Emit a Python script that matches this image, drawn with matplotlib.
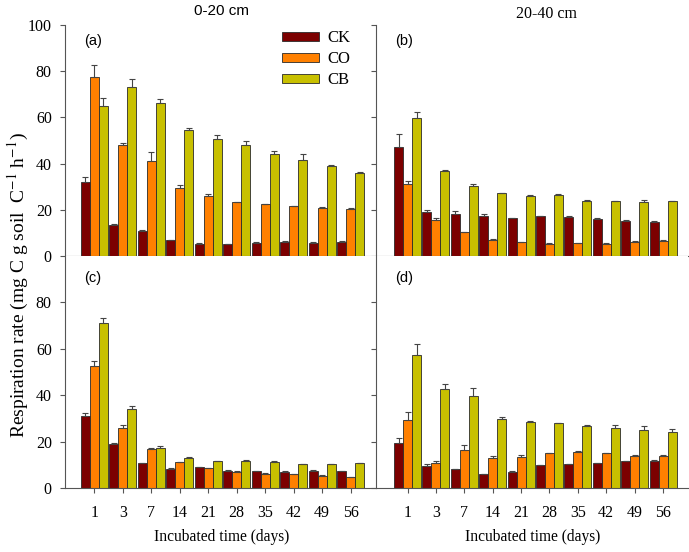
import numpy as np
import matplotlib
matplotlib.use("Agg")
import matplotlib.pyplot as plt

plt.rcParams["mathtext.fontset"] = "stix"

# Data
days = ["1", "3", "7", "14", "21", "28", "35", "42", "49", "56"]
treatments = ["CK", "CO", "CB"]
colors = ["#7c0000", "#ff8000", "#c8c000"]

# (a) 0-20 cm
a_ck = [31.9, 13.6, 10.8, 6.8, 5.3, 5.2, 5.8, 6.1, 5.8, 6.2]
a_co = [77.6, 48.1, 41.1, 29.3, 26.0, 23.2, 22.4, 21.6, 20.9, 20.3]
a_cb = [65.1, 73.3, 66.1, 54.4, 50.5, 48.2, 44.3, 41.4, 39.1, 36.1]
a_ck_err = [2.3, 0.4, 0.3, 0.2, 0.2, 0.2, 0.2, 0.2, 0.2, 0.3]
a_co_err = [5.1, 1.0, 3.8, 1.6, 0.8, 0.3, 0.2, 0.2, 0.3, 0.6]
a_cb_err = [3.4, 3.3, 1.7, 0.9, 1.7, 1.4, 1.3, 2.8, 0.2, 0.2]

# (b) 20-40 cm
b_ck = [47.3, 18.9, 18.3, 17.3, 16.3, 17.2, 16.7, 16.2, 15.3, 14.9]
b_co = [31.2, 15.6, 10.4, 7.1, 5.9, 5.3, 5.6, 5.3, 6.1, 6.6]
b_cb = [59.6, 36.8, 30.3, 27.1, 26.1, 26.6, 24.0, 23.7, 23.2, 23.7]
b_ck_err = [5.4, 0.9, 1.0, 1.0, 0.2, 0.2, 0.4, 0.2, 0.2, 0.2]
b_co_err = [1.4, 0.7, 0.2, 0.2, 0.2, 0.2, 0.2, 0.2, 0.2, 0.2]
b_cb_err = [2.7, 0.3, 1.0, 0.2, 0.3, 0.3, 0.4, 0.2, 1.0, 0.2]

# (c) 0-20 cm
c_ck = [31.1, 18.8, 10.6, 8.0, 8.9, 7.5, 7.3, 7.0, 7.5, 7.2]
c_co = [52.6, 25.8, 16.8, 11.0, 8.6, 6.9, 6.2, 5.9, 5.2, 4.7]
c_cb = [70.8, 34.0, 17.2, 13.0, 11.5, 11.6, 11.3, 10.3, 10.2, 10.6]
c_ck_err = [1.0, 0.7, 0.2, 0.4, 0.3, 0.2, 0.2, 0.2, 0.3, 0.2]
c_co_err = [2.2, 1.3, 0.3, 0.2, 0.2, 0.2, 0.2, 0.2, 0.2, 0.2]
c_cb_err = [2.3, 1.4, 0.9, 0.2, 0.2, 0.3, 0.2, 0.2, 0.2, 0.3]

# (d) 20-40 cm
d_ck = [19.4, 9.3, 8.0, 6.0, 7.0, 9.7, 10.3, 10.6, 11.6, 11.8]
d_co = [29.2, 10.9, 16.3, 13.0, 13.5, 14.9, 15.5, 14.9, 13.8, 13.9]
d_cb = [57.3, 42.4, 39.7, 29.7, 28.5, 27.8, 26.8, 25.8, 24.9, 24.1]
d_ck_err = [2.1, 0.9, 0.2, 0.2, 0.2, 0.2, 0.2, 0.2, 0.2, 0.2]
d_co_err = [3.6, 0.7, 2.2, 0.6, 0.5, 0.2, 0.3, 0.2, 0.2, 0.2]
d_cb_err = [4.8, 2.3, 3.3, 0.8, 0.3, 0.2, 0.2, 1.4, 1.9, 1.4]

SERIF = "Liberation Serif"
SANS = "Liberation Sans"

fig = plt.figure(figsize=(6.89, 5.52), dpi=100)
W, H = 689, 552


def add_axes(x0, y_top, x1, y_bot):
    return fig.add_axes([x0 / W, 1 - y_bot / H, (x1 - x0) / W, (y_bot - y_top) / H])


ax_a = add_axes(65, 25, 376, 256)
ax_b = add_axes(376, 25, 688, 256)
ax_c = add_axes(65, 256, 376, 488)
ax_d = add_axes(376, 256, 688, 488)

panels = [
    (ax_a, [a_ck, a_co, a_cb], [a_ck_err, a_co_err, a_cb_err], "(a)", (-1.03, 9.89), 100),
    (ax_b, [b_ck, b_co, b_cb], [b_ck_err, b_co_err, b_cb_err], "(b)", (-1.11, 9.88), 100),
    (ax_c, [c_ck, c_co, c_cb], [c_ck_err, c_co_err, c_cb_err], "(c)", (-1.03, 9.89), 99.8),
    (ax_d, [d_ck, d_co, d_cb], [d_ck_err, d_co_err, d_cb_err], "(d)", (-1.11, 9.88), 99.8),
]

x = np.arange(len(days))
w = 0.317
bars_for_legend = []
for ax, series, errs, tag, xl, ytop in panels:
    for i, (vals, err) in enumerate(zip(series, errs)):
        b = ax.bar(x + (i - 1) * w, vals, width=w, color=colors[i],
                   edgecolor="#2a2a2a", linewidth=0.6,
                   yerr=[np.zeros(len(err)), err],
                   error_kw=dict(ecolor="#444444", elinewidth=0.8, capsize=2.5, capthick=0.8),
                   zorder=2)
        if ax is ax_a:
            bars_for_legend.append(b)
    ax.set_xlim(*xl)
    ax.set_ylim(0, ytop)
    for s in ["top", "right"]:
        ax.spines[s].set_visible(False)
    for s in ["left", "bottom"]:
        ax.spines[s].set_color("#555555")
        ax.spines[s].set_linewidth(0.8)
    ax.tick_params(axis="both", direction="out", length=3.5, width=0.8, color="#555555")
    ax.set_xticks(x)
    ax.set_xticklabels(days, fontfamily=SERIF, fontsize=11.5)
    ax.tick_params(axis="x", pad=9)
    ax.text(0.06, 0.93 if ax in (ax_a, ax_b) else 0.905, tag, transform=ax.transAxes,
            fontfamily=SANS, fontsize=10.5, ha="left", va="center")

ax_a.set_yticks([0, 20, 40, 60, 80, 100])
ax_c.set_yticks([0, 20, 40, 60, 80])
ax_b.set_yticks([0, 20, 40, 60, 80, 100])
ax_d.set_yticks([0, 20, 40, 60, 80])
for ax in (ax_a, ax_c):
    ax.set_yticklabels([str(int(t)) for t in ax.get_yticks()], fontfamily=SERIF, fontsize=11.5)
    ax.tick_params(axis="y", pad=6)
for ax in (ax_b, ax_d):
    ax.set_yticklabels([])
for ax in (ax_a, ax_b):
    ax.set_xticklabels([])
    ax.tick_params(axis="x", length=0)

leg = ax_a.legend(bars_for_legend, treatments, loc="upper left",
                  bbox_to_anchor=((282 - 65) / 311, (256 - 30) / 231),
                  frameon=False, borderpad=0, borderaxespad=0,
                  handlelength=2.2, handleheight=0.45, handletextpad=0.55,
                  labelspacing=0.3, prop={"family": SERIF, "size": 12})

fig.text(222 / W, 1 - 11 / H, "0-20 cm", fontfamily=SANS, fontsize=11, ha="center", va="center")
fig.text(547 / W, 1 - 14 / H, "20-40 cm", fontfamily=SERIF, fontsize=11.5, ha="center", va="center")
fig.text(18 / W, 1 - 285 / H, "Respiration rate (mg C g soil  C$^{-1}$ h$^{-1}$)",
         fontfamily=SERIF, fontsize=14, rotation=90, ha="center", va="center")
fig.text(222 / W, 1 - 537 / H, "Incubated time (days)", fontfamily=SERIF, fontsize=11.2, ha="center", va="center")
fig.text(533 / W, 1 - 537 / H, "Incubated time (days)", fontfamily=SERIF, fontsize=11.2, ha="center", va="center")

fig.savefig("out.png", dpi=100)
